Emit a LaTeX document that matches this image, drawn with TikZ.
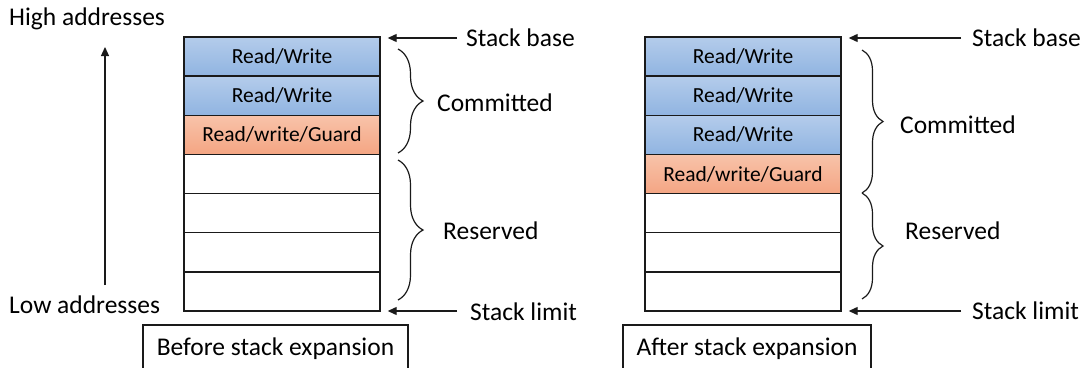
\documentclass[tikz,border=0pt]{standalone}
\usepackage{fontspec}
\setmainfont{Carlito}
\usetikzlibrary{arrows.meta,decorations.pathreplacing}
\definecolor{blueT}{HTML}{B4CCEB}
\definecolor{blueB}{HTML}{90B4E1}
\definecolor{orT}{HTML}{F8C3AA}
\definecolor{orB}{HTML}{F4A583}
\definecolor{ink}{HTML}{1A1A1A}
\begin{document}
\begin{tikzpicture}[x=1pt,y=1pt,
  cell/.style={draw=ink, line width=1.4pt, minimum width=196pt, minimum height=39.14pt,
    inner sep=0pt, font=\fontsize{21.5}{24}\selectfont},
  rw/.style={cell, top color=blueT, bottom color=blueB},
  guard/.style={cell, top color=orT, bottom color=orB},
  blank/.style={cell, fill=white},
  lbl/.style={anchor=base west, inner sep=0pt, font=\fontsize{25.5}{28}\selectfont},
  capt/.style={draw=ink, line width=1.3pt, inner sep=0pt, minimum height=48pt,
    font=\fontsize{25.5}{28}\selectfont},
  arr/.style={-{Triangle[length=9pt,width=8pt]}, line width=1.2pt, draw=ink},
  brc/.style={decorate, decoration={brace, amplitude=#1}, line width=1.2pt, draw=ink},
]
\path[use as bounding box] (0,0) rectangle (1090,-367);
\clip (0,0) rectangle (1090,-367);

% left labels
\node[lbl] (high) at (9,-25) {High addresses};
\node[lbl] (low) at (9,-313) {Low addresses};
\coordinate (lowend) at (105,-285);
\coordinate (highend) at (105,-47);
\draw[arr] (lowend) -- (highend);

% left stack
\node[rw]    (L1) at (282,-56.57)  {Read/Write};
\node[rw]    (L2) at (282,-95.71)  {Read/Write};
\node[guard] (L3) at (282,-134.86) {Read/write/Guard};
\node[blank] (L4) at (282,-174.00) {};
\node[blank] (L5) at (282,-213.14) {};
\node[blank] (L6) at (282,-252.29) {};
\node[blank] (L7) at (282,-291.43) {};

% right stack
\node[rw]    (R1) at (743,-56.57)  {Read/Write};
\node[rw]    (R2) at (743,-95.71)  {Read/Write};
\node[rw]    (R3) at (743,-134.86) {Read/Write};
\node[guard] (R4) at (743,-174.00) {Read/write/Guard};
\node[blank] (R5) at (743,-213.14) {};
\node[blank] (R6) at (743,-252.29) {};
\node[blank] (R7) at (743,-291.43) {};

% left annotations
\node[lbl] (sbL) at (466,-46) {Stack base};
\node[lbl] (slL) at (470,-320) {Stack limit};
\node[lbl] (cmL) at (437,-111) {Committed};
\node[lbl] (rsL) at (443,-239) {Reserved};
\coordinate (sbLa) at (457,-38);
\coordinate (slLa) at (457,-311);
\draw[arr, shorten >=7pt] (sbLa) -- (sbLa -| L1.east);
\draw[arr, shorten >=7pt] (slLa) -- (slLa -| L7.east);
\draw[brc=25pt] (398,-49) -- (398,-153);
\draw[brc=25pt] (398,-160) -- (398,-300);

% right annotations
\node[lbl] (sbR) at (972,-46) {Stack base};
\node[lbl] (slR) at (972,-319) {Stack limit};
\node[lbl] (cmR) at (900,-133) {Committed};
\node[lbl] (rsR) at (905,-239) {Reserved};
\coordinate (sbRa) at (961,-38);
\coordinate (slRa) at (961,-311);
\draw[arr, shorten >=7pt] (sbRa) -- (sbRa -| R1.east);
\draw[arr, shorten >=7pt] (slRa) -- (slRa -| R7.east);
\draw[brc=21pt] (862,-50) -- (862,-193);
\draw[brc=21pt] (862,-193) -- (862,-299);

% captions
\node[capt, minimum width=265pt] (capL) at (275.5,-349) {Before stack expansion};
\node[capt, minimum width=248pt] (capR) at (747,-349) {After stack expansion};
\end{tikzpicture}
\end{document}
